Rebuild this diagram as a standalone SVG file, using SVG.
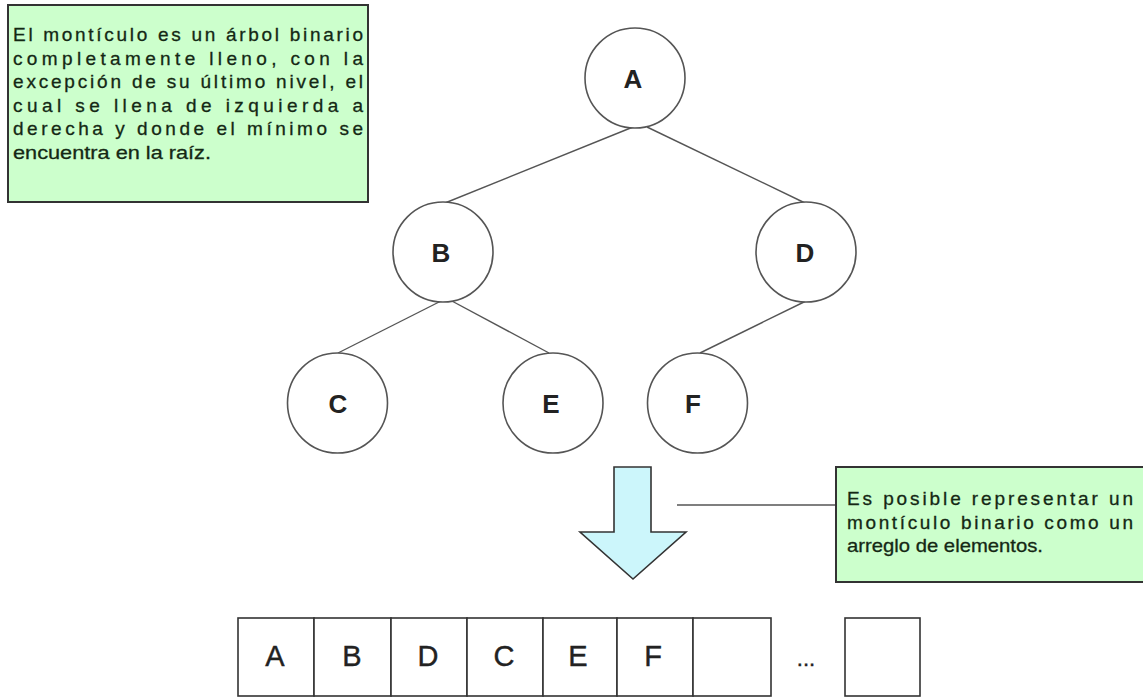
<svg xmlns="http://www.w3.org/2000/svg" width="1143" height="698" viewBox="0 0 1143 698">
<style>
.note{fill:#ccffcc;stroke:#333;stroke-width:2}
.nt{font-family:"Liberation Sans",Arial,sans-serif;font-size:19px;fill:#142814;stroke:#142814;stroke-width:0.3}
.node{fill:#fff;stroke:#555;stroke-width:1.6}
.nl{font-family:"Liberation Sans",Arial,sans-serif;font-size:26px;font-weight:bold;fill:#222;text-anchor:middle}
.edge{stroke:#555;stroke-width:1.4;fill:none}
.cell{fill:#fff;stroke:#333;stroke-width:1.6}
.cl{font-family:"Liberation Sans",Arial,sans-serif;font-size:29px;fill:#222;stroke:#222;stroke-width:0.4;text-anchor:middle}
</style>
<rect width="1143" height="698" fill="#fff"/>
<g id="note1">
<rect class="note" x="8" y="5" width="360" height="197"/>
<text class="nt" x="13" y="41" textLength="350" lengthAdjust="spacing">El montículo es un árbol binario</text>
<text class="nt" x="13" y="64.5" textLength="350" lengthAdjust="spacing">completamente lleno, con la</text>
<text class="nt" x="13" y="88" textLength="350" lengthAdjust="spacing">excepción de su último nivel, el</text>
<text class="nt" x="13" y="111.5" textLength="350" lengthAdjust="spacing">cual se llena de izquierda a</text>
<text class="nt" x="13" y="135" textLength="350" lengthAdjust="spacing">derecha y donde el mínimo se</text>
<text class="nt" x="13" y="158.5" textLength="198" lengthAdjust="spacingAndGlyphs">encuentra en la raíz.</text>
</g>
<g id="connectors">
<line class="edge" x1="633" y1="127" x2="445" y2="203"/>
<line class="edge" x1="647" y1="127" x2="805" y2="203"/>
<line class="edge" x1="443" y1="300" x2="338" y2="353"/>
<line class="edge" x1="450" y1="300" x2="549" y2="353"/>
<line class="edge" x1="806" y1="301" x2="700" y2="353"/>
<line class="edge" x1="677" y1="505" x2="836" y2="505"/>
</g>
<g id="nodeA"><circle class="node" cx="635" cy="78" r="50"/><text class="nl" x="633" y="88">A</text></g>
<g id="nodeB"><circle class="node" cx="443" cy="252" r="50"/><text class="nl" x="441" y="262">B</text></g>
<g id="nodeD"><circle class="node" cx="806" cy="252" r="50"/><text class="nl" x="805" y="262">D</text></g>
<g id="nodeC"><circle class="node" cx="337.5" cy="403" r="50"/><text class="nl" x="338" y="413">C</text></g>
<g id="nodeE"><circle class="node" cx="553" cy="403" r="50"/><text class="nl" x="551" y="413">E</text></g>
<g id="nodeF"><circle class="node" cx="697.5" cy="403" r="50"/><text class="nl" x="693" y="413">F</text></g>
<g id="arrow">
<polygon points="614,467 651,467 651,532 686,532 633,579 580,532 614,532" fill="#ccf6fb" stroke="#333" stroke-width="1.6"/>
</g>
<g id="note2">
<rect class="note" x="836" y="467" width="310" height="115"/>
<text class="nt" x="847" y="505" textLength="286" lengthAdjust="spacing">Es posible representar un</text>
<text class="nt" x="847" y="528.5" textLength="286" lengthAdjust="spacing">montículo binario como un</text>
<text class="nt" x="847" y="552" textLength="196" lengthAdjust="spacingAndGlyphs">arreglo de elementos.</text>
</g>
<g id="array">
<rect class="cell" x="238" y="618" width="76" height="78"/>
<rect class="cell" x="314" y="618" width="77" height="78"/>
<rect class="cell" x="391" y="618" width="76" height="78"/>
<rect class="cell" x="467" y="618" width="76" height="78"/>
<rect class="cell" x="543" y="618" width="74" height="78"/>
<rect class="cell" x="617" y="618" width="76" height="78"/>
<rect class="cell" x="693" y="618" width="78" height="78"/>
<rect class="cell" x="845" y="618" width="75" height="78"/>
<text class="cl" x="275" y="666">A</text>
<text class="cl" x="352" y="666">B</text>
<text class="cl" x="428" y="666">D</text>
<text class="cl" x="504" y="666">C</text>
<text class="cl" x="578" y="666">E</text>
<text class="cl" x="653" y="666">F</text>
<text class="cl" x="806" y="666" style="font-size:22px">...</text>
</g>
</svg>
